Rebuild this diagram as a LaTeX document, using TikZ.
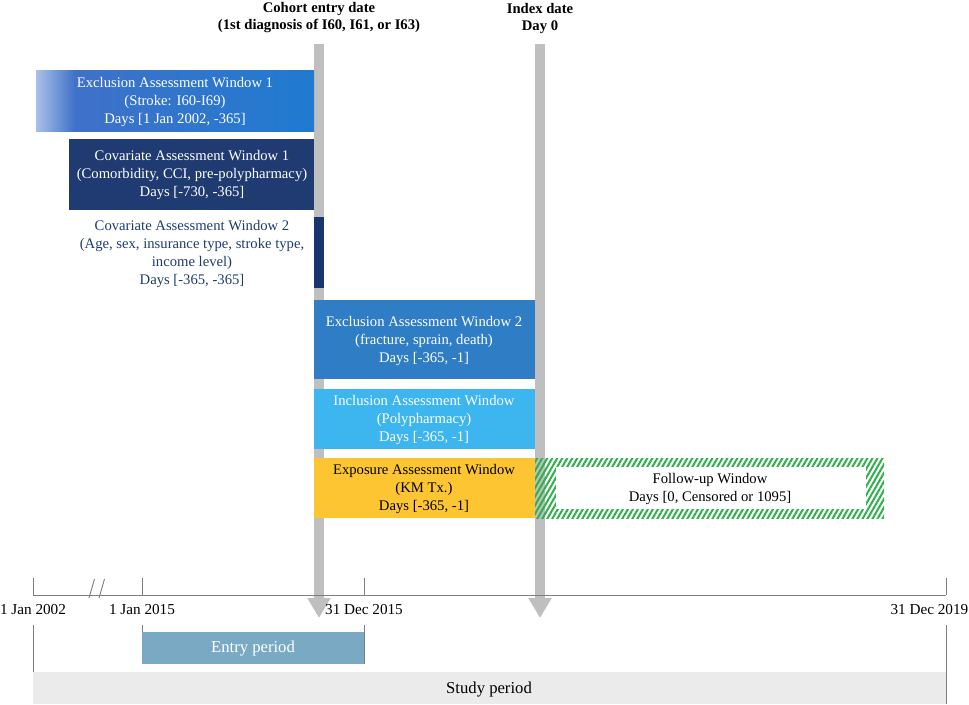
\documentclass[tikz,border=0pt]{standalone}
\usepackage{fontspec}
\setmainfont{Liberation Serif}
\usetikzlibrary{patterns.meta,arrows.meta}
\definecolor{barg}{HTML}{BFBFBF}
\definecolor{exlight}{HTML}{AAC0E8}
\definecolor{exmid}{HTML}{3F71C8}
\definecolor{exright}{HTML}{1F7BD0}
\definecolor{navy}{HTML}{1F3B72}
\definecolor{covbar}{HTML}{183570}
\definecolor{extwo}{HTML}{2F7DC5}
\definecolor{incl}{HTML}{3DB5EE}
\definecolor{expo}{HTML}{FEC532}
\definecolor{hatchg}{HTML}{2EAF4A}
\definecolor{entry}{HTML}{7AA9C4}
\definecolor{study}{HTML}{EBEBEB}
\definecolor{tlgray}{HTML}{7F7F7F}
\pgfdeclarehorizontalshading{exshade}{100bp}{color(0bp)=(exlight); color(25bp)=(exlight); color(32bp)=(exmid); color(75bp)=(exright); color(100bp)=(exright)}
\tikzset{
  txt/.style={align=center, inner sep=0pt, font=\fontsize{11}{13.5}\selectfont},
  wtxt/.style={txt, text=white},
  datetxt/.style={inner sep=0pt, font=\fontsize{11.4}{13.5}\selectfont},
  hdr/.style={align=center, inner sep=0pt, font=\bfseries\fontsize{11}{12.75}\selectfont},
  big/.style={inner sep=0pt, font=\fontsize{12.5}{14}\selectfont},
  arrowbar/.style={draw=barg, line width=7.5pt, -{Triangle[width=16.5pt,length=15pt]}},
  tl/.style={draw=tlgray, line width=0.7pt},
}
\begin{document}
\begin{tikzpicture}[x=0.75pt,y=-0.75pt]
\useasboundingbox (0,0) rectangle (969,704);
% header labels
\node[hdr] (cohort) at (319,18) {Cohort entry date\\(1st diagnosis of I60, I61, or I63)};
\node[hdr] (index) at (540,18) {Index date\\Day 0};
% vertical arrows
\coordinate (c1top) at (319,44);
\coordinate (c1tip) at (319,618);
\coordinate (c2top) at (540,44);
\coordinate (c2tip) at (540,618);
\draw[arrowbar] (c1top) -- (c1tip);
\draw[arrowbar] (c2top) -- (c2tip);
% Exclusion window 1
\shade[shading=exshade] (36,70) rectangle (314,131);
\node[wtxt] (ex1) at (175,102) {Exclusion Assessment Window 1\\(Stroke: I60-I69)\\Days [1 Jan 2002, -365]};
% Covariate window 1
\fill[navy] (69,139) rectangle (314,210);
\node[wtxt] (cov1) at (192,175) {Covariate Assessment Window 1\\(Comorbidity, CCI, pre-polypharmacy)\\Days [-730, -365]};
% Covariate window 2
\fill[covbar] (314,217) rectangle (324,288);
\node[txt, text=navy] (cov2) at (192,254) {Covariate Assessment Window 2\\(Age, sex, insurance type, stroke type,\\income level)\\Days [-365, -365]};
% Exclusion window 2
\fill[extwo] (314,300) rectangle (535,379);
\node[wtxt] (ex2) at (424,341) {Exclusion Assessment Window 2\\(fracture, sprain, death)\\Days [-365, -1]};
% Inclusion window
\fill[incl] (314,389) rectangle (535,449);
\node[wtxt] (inc) at (424,420) {Inclusion Assessment Window\\(Polypharmacy)\\Days [-365, -1]};
% Exposure window
\fill[expo] (314,458) rectangle (535,518);
\node[txt] (exp) at (424,489) {Exposure Assessment Window\\(KM Tx.)\\Days [-365, -1]};
% Follow-up window
\fill[pattern={Lines[angle=60,distance=3.25pt,line width=1.5pt]}, pattern color=hatchg] (535,458) rectangle (884,518);
\fill[white] (556,467) rectangle (866,509);
\node[txt] (fu) at (710,489) {Follow-up Window\\Days [0, Censored or 1095]};
% timeline
\coordinate (t0) at (33,595);
\coordinate (t1) at (946,595);
\draw[tl] (t0) -- (t1);
\foreach \xx in {33,142,364,946} {\draw[tl] (\xx,578) -- (\xx,595);}
\draw[tl] (89,598) -- (94.5,579);
\draw[tl] (99,598) -- (104.5,579);
\node[datetxt] (d1) at (33,610) {1 Jan 2002};
\node[datetxt] (d2) at (142,610) {1 Jan 2015};
\node[datetxt] (d3) at (364,610) {31 Dec 2015};
\node[datetxt, anchor=east] (d4) at (968.5,610) {31 Dec 2019};
% periods
\draw[tl] (33,625) -- (33,704);
\draw[tl] (946,625) -- (946,704);
\draw[tl] (142,625) -- (142,664);
\draw[tl] (364,625) -- (364,664);
\fill[entry] (142.4,632) rectangle (363.6,664);
\node[big, text=white] (ep) at (253,648) {Entry period};
\fill[study] (33.4,672) rectangle (945.6,704);
\node[big] (sp) at (489,689) {Study period};
\end{tikzpicture}
\end{document}
